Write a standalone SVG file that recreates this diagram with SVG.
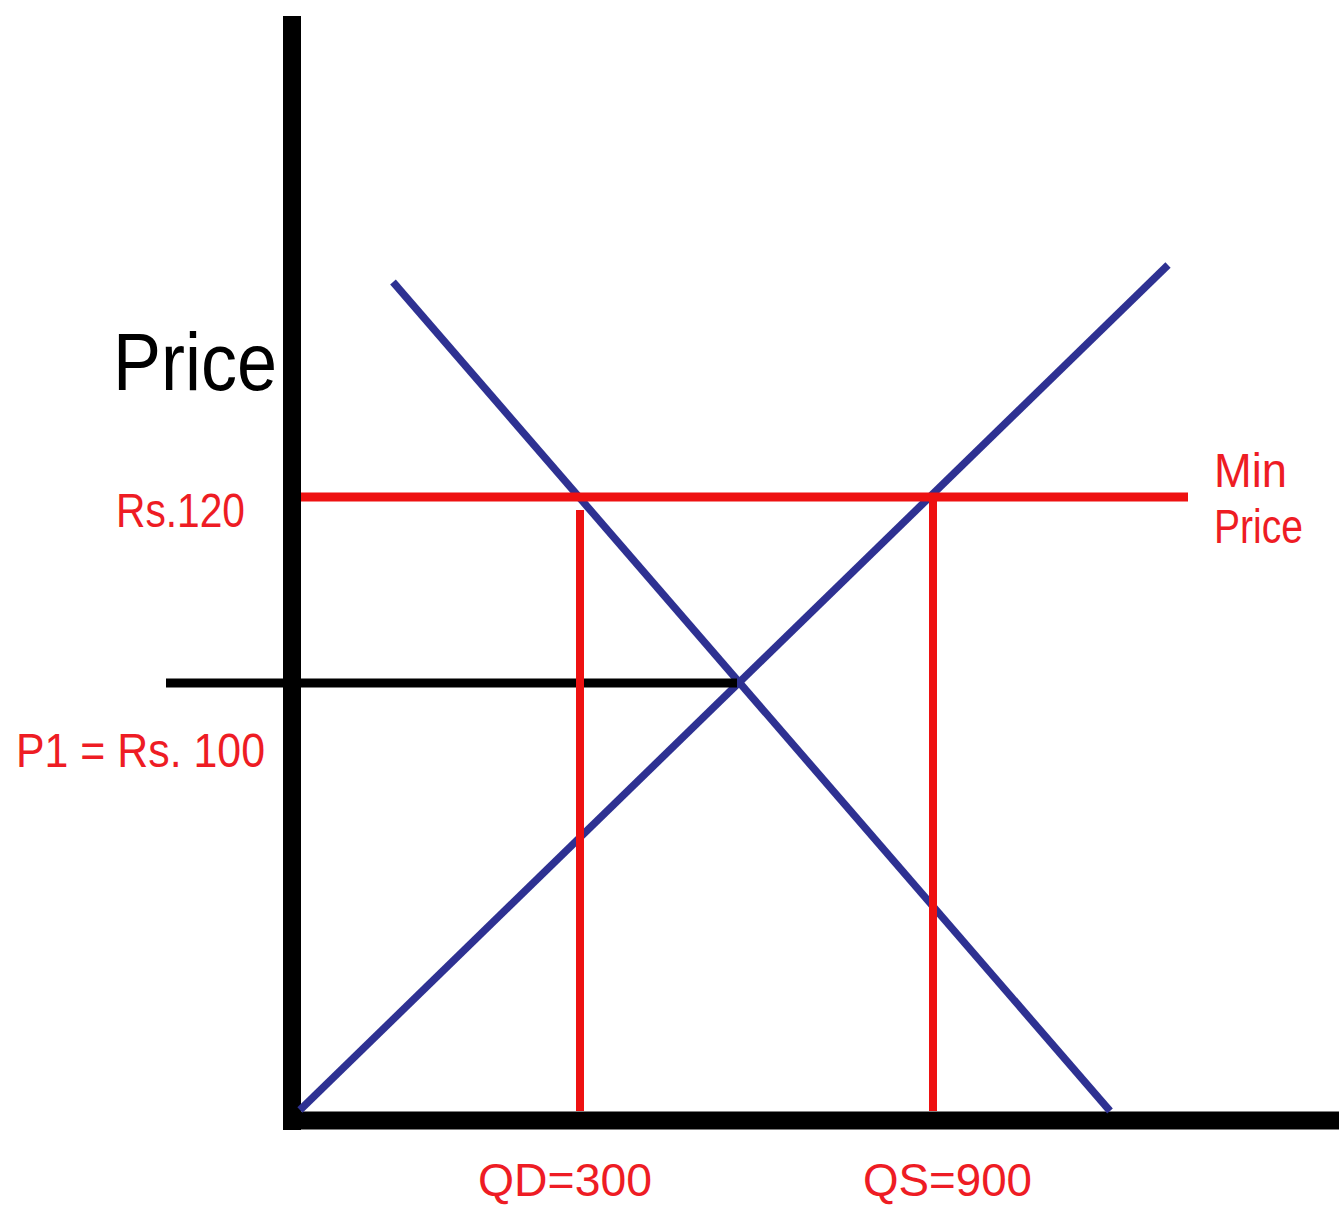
<svg xmlns="http://www.w3.org/2000/svg" width="1339" height="1207" viewBox="0 0 1339 1207">
<style>
.lbl{font-family:"Liberation Sans","DejaVu Sans",sans-serif;fill:#ee1c24}
.axis{stroke:#000;stroke-width:18;fill:none}
.curve{stroke:#2e3192;stroke-width:7.5;fill:none}
.red{stroke:#ee1111;fill:none}
</style>
<rect width="1339" height="1207" fill="#fff"/>
<g id="axes">
<line class="axis" x1="292" y1="16" x2="292" y2="1130"/>
<line class="axis" x1="283" y1="1120.5" x2="1339" y2="1120.5"/>
</g>
<g id="connectors">
<line class="curve" x1="393" y1="282" x2="1110" y2="1111"/>
<line class="curve" x1="300" y1="1110" x2="1168" y2="265"/>
<line stroke="#000" stroke-width="9" x1="166" y1="683" x2="737" y2="683"/>
<line class="red" stroke-width="9" x1="301" y1="497" x2="1188" y2="497"/>
<line class="red" stroke-width="8" x1="580" y1="510" x2="580" y2="1111"/>
<line class="red" stroke-width="8" x1="933" y1="497" x2="933" y2="1111"/>
</g>
<g id="label-price"><text x="113" y="390" font-family="Liberation Sans, DejaVu Sans, sans-serif" font-size="81" fill="#000" textLength="164" lengthAdjust="spacingAndGlyphs">Price</text></g>
<g id="label-rs120"><text class="lbl" x="116" y="527" font-size="49" textLength="129" lengthAdjust="spacingAndGlyphs">Rs.120</text></g>
<g id="label-p1"><text class="lbl" x="16" y="767" font-size="49" textLength="249" lengthAdjust="spacingAndGlyphs">P1 = Rs. 100</text></g>
<g id="label-minprice">
<text class="lbl" x="1214" y="487" font-size="49" textLength="73" lengthAdjust="spacingAndGlyphs">Min</text>
<text class="lbl" x="1214" y="543" font-size="49" textLength="89" lengthAdjust="spacingAndGlyphs">Price</text>
</g>
<g id="label-qd"><text class="lbl" x="478" y="1196" font-size="46" textLength="174" lengthAdjust="spacingAndGlyphs">QD=300</text></g>
<g id="label-qs"><text class="lbl" x="863" y="1196" font-size="46" textLength="169" lengthAdjust="spacingAndGlyphs">QS=900</text></g>
</svg>
